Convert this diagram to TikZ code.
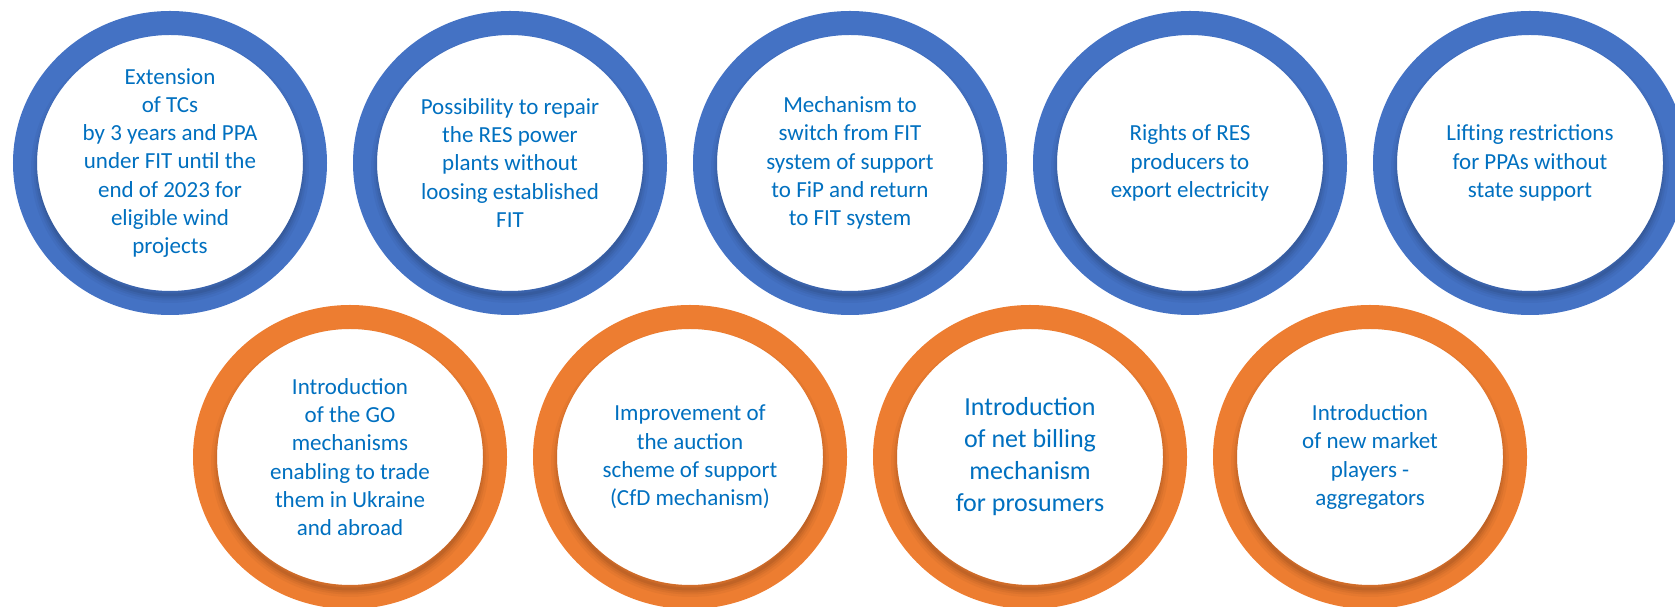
\documentclass[tikz,border=0pt]{standalone}
\usepackage{fontspec}
\setmainfont{Carlito}
\usetikzlibrary{shapes.geometric}
\definecolor{ringblue}{HTML}{4472C4}
\definecolor{ringorange}{HTML}{ED7D31}
\definecolor{txtblue}{HTML}{0070C0}
\tikzset{
  ringnode/.style={ellipse, draw=#1, line width=24pt, minimum width=290pt, minimum height=280pt, inner sep=0pt, fill=white},
  label/.style={align=center, text=txtblue, font=\fontsize{23}{28.3}\selectfont, inner sep=0pt},
  biglabel/.style={align=center, text=txtblue, font=\fontsize{26}{32}\selectfont, inner sep=0pt}
}
\newcommand\ringshadow[1]{%
  \begin{scope}[shift={(#1.center)}, even odd rule]
    \clip (0,0) ellipse [x radius=157, y radius=152] (0,0) ellipse [x radius=133, y radius=128];
    \foreach \w/\o in {16/0.035,11/0.045,7/0.055,3/0.065}
      \draw[black, opacity=\o, line width=\w pt] (0,-6) ellipse [x radius=131, y radius=126];
  \end{scope}}
\begin{document}
\begin{tikzpicture}[x=1pt,y=1pt]
\useasboundingbox (0,0) rectangle (1675,607);
% top row
\node[ringnode=ringblue] (c1) at (170,444) {};
\node[ringnode=ringblue] (c2) at (510,444) {};
\node[ringnode=ringblue] (c3) at (850,444) {};
\node[ringnode=ringblue] (c4) at (1190,444) {};
\node[ringnode=ringblue] (c5) at (1530,444) {};
% bottom row
\node[ringnode=ringorange] (c6) at (350,150) {};
\node[ringnode=ringorange] (c7) at (690,150) {};
\node[ringnode=ringorange] (c8) at (1030,150) {};
\node[ringnode=ringorange] (c9) at (1370,150) {};
\foreach \c in {c1,c2,c3,c4,c5,c6,c7,c8,c9} {\ringshadow{\c}}
% labels
\node[label] (t1) at (c1.center) {Extension\\of TCs\\by 3 years and PPA\\under FIT until the\\end of 2023 for\\eligible wind\\projects};
\node[label] (t2) at (c2.center) {Possibility to repair\\the RES power\\plants without\\loosing established\\FIT};
\node[label] (t3) at (c3.center) {Mechanism to\\switch from FIT\\system of support\\to FiP and return\\to FIT system};
\node[label] (t4) at (c4.center) {Rights of RES\\producers to\\export electricity};
\node[label] (t5) at (c5.center) {Lifting restrictions\\for PPAs without\\state support};
\node[label] (t6) at (c6.center) {Introduction\\of the GO\\mechanisms\\enabling to trade\\them in Ukraine\\and abroad};
\node[label] (t7) at (c7.center) {Improvement of\\the auction\\scheme of support\\(CfD mechanism)};
\node[biglabel] (t8) at (c8.center) {Introduction\\of net billing\\mechanism\\for prosumers};
\node[label] (t9) at (c9.center) {Introduction\\of new market\\players -\\aggregators};
\end{tikzpicture}
\end{document}
